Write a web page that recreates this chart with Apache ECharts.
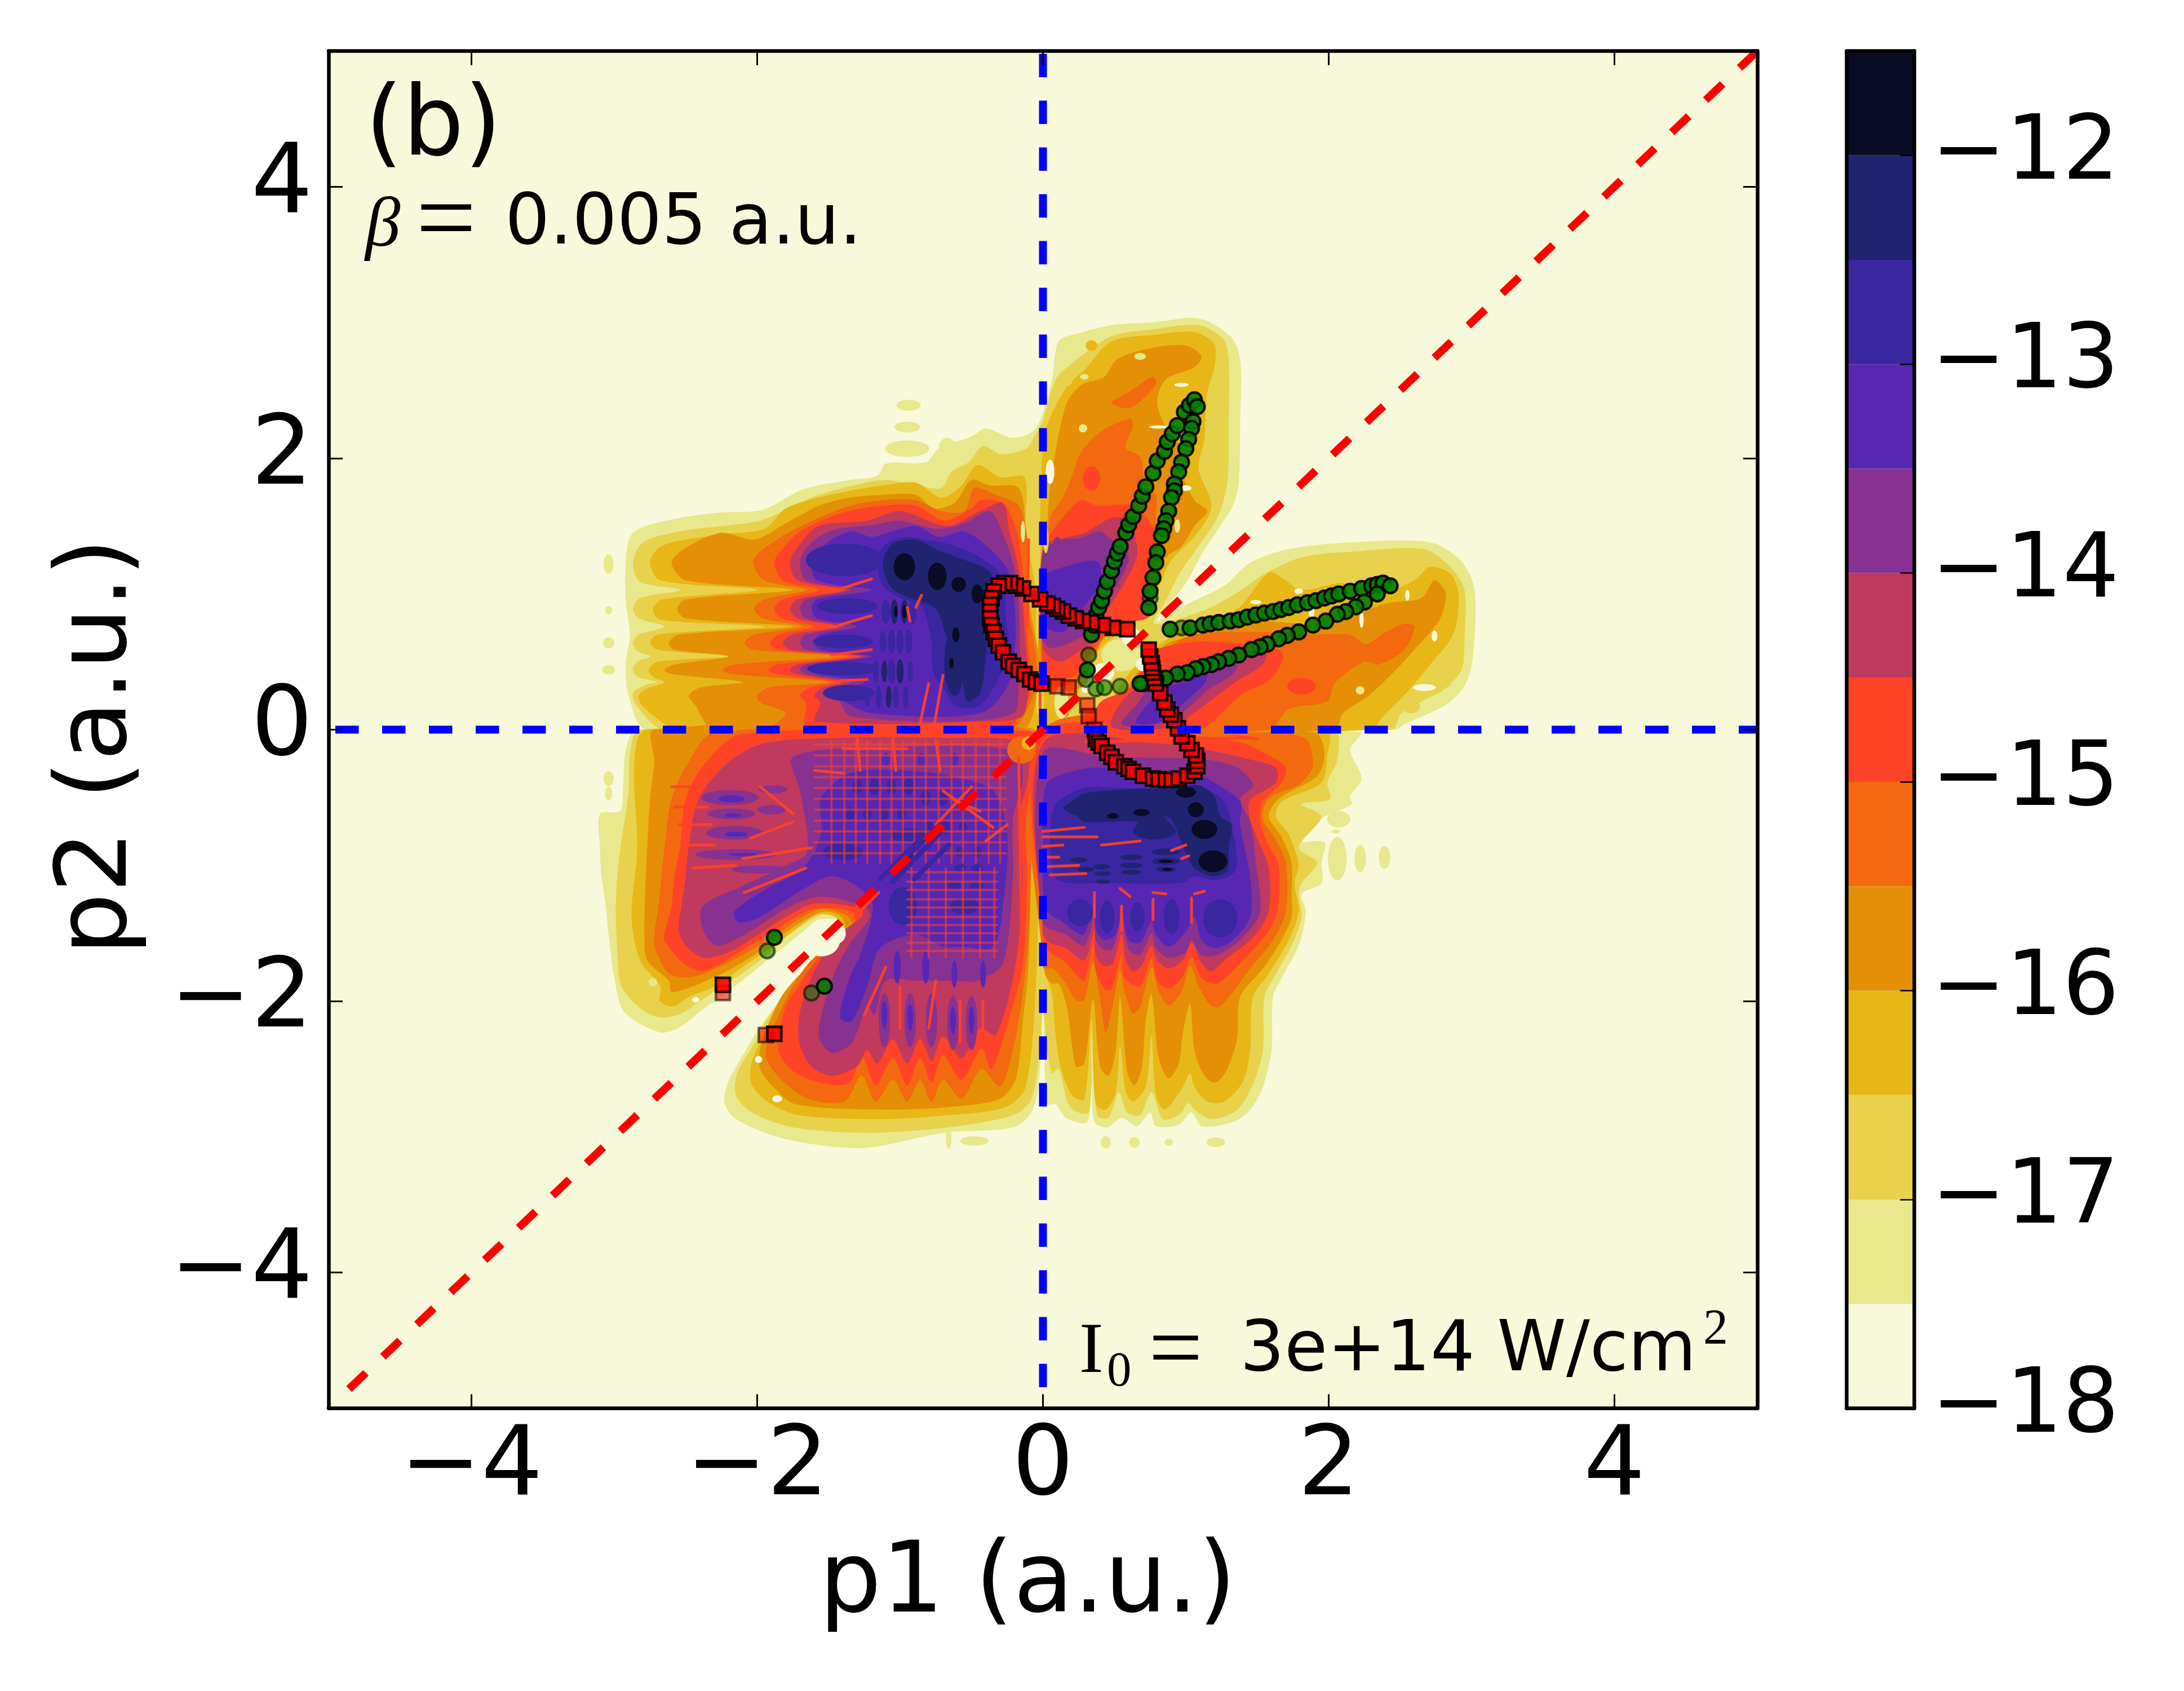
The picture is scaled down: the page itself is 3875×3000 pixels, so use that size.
<!DOCTYPE html>
<html>
<head>
<meta charset="UTF-8">
<title>p1 p2 momentum map</title>
<script src="https://cdn.jsdelivr.net/npm/echarts@6/dist/echarts.min.js"></script>
<style>
html,body{margin:0;padding:0;background:#fff}
#chart{width:3875px;height:3000px}
</style>
</head>
<body>
<div id="chart"></div>
<script type="text/javascript">
// colour levels, -18 to -11.5 in steps of 0.5
var levelEdges=[-18,-17.5,-17,-16.5,-16,-15.5,-15,-14.5,-14,-13.5,-13,-12.5,-12,-11.5];
var levelColors=['#f8f8da','#e8e88c','#e8d24c','#e7b718','#e58f07','#f2690f','#ff4327','#bf3a5e','#873290','#5727b3','#3a26a0','#20236f','#0a0b24'];
var mainTicks=[-4,-2,0,2,4];
var barTicks=[-18,-17,-16,-15,-14,-13,-12];

// contour outlines, in a.u. u = upper half, ul/ut/ur = left, top, right lobe
var u1=[[-2.77,0],[-2.9,.25],[-2.92,.48],[-2.89,.7],[-2.92,.95],[-2.92,1.23],[-2.87,1.45],[-2.59,1.55],[-2.25,1.6],[-1.96,1.62],[-1.68,1.77],[-1.35,1.84],[-1.16,1.87],[-1.1,1.96],[-.82,1.97],[-.73,2.07],[-.5,2.16],[-.4,2.22],[-.21,2.15],[-.05,2.22],[.06,2.56],[.11,2.86],[.25,2.92],[.48,2.98],[.77,3],[1.09,3.03],[1.31,2.9],[1.38,2.73],[1.38,2.24],[1.37,1.82],[1.33,1.65],[1.24,1.5],[1.11,1.29],[1,1.08],[.88,.92],[.8,.8],[1,.92],[1.27,1.06],[1.45,1.23],[1.72,1.33],[2.15,1.38],[2.71,1.38],[2.92,1.25],[3.02,1.04],[3.01,.55],[2.96,.34],[2.83,.19],[2.53,.04],[2.47,0]];
var u2=[[-2.65,0],[-2.84,.17],[-2.87,.27],[-2.78,.33],[-2.7,.35],[-2.84,.39],[-2.87,.44],[-2.84,.5],[-2.75,.54],[-2.84,.58],[-2.87,.64],[-2.83,.7],[-2.65,.76],[-2.83,.82],[-2.87,.89],[-2.82,.97],[-2.54,1.03],[-2.82,1.09],[-2.87,1.23],[-2.8,1.38],[-2.55,1.46],[-2.25,1.5],[-1.98,1.54],[-1.72,1.66],[-1.57,1.73],[-1.12,1.84],[-.89,1.8],[-.71,1.78],[-.64,1.9],[-.52,1.97],[-.42,2.09],[-.3,2.03],[-.12,2.07],[-.05,2.18],[0,2.28],[.09,2.58],[.23,2.72],[.48,2.9],[.77,2.95],[1.09,2.98],[1.26,2.88],[1.3,2.73],[1.3,2.24],[1.29,1.82],[1.22,1.56],[1.06,1.31],[.95,1.14],[.87,.97],[.78,.78],[1.13,.88],[1.36,1.01],[1.54,1.14],[1.81,1.27],[2.15,1.31],[2.67,1.33],[2.85,1.2],[2.95,1.03],[2.95,.65],[2.93,.44],[2.8,.29],[2.69,.23],[2.51,.12],[2.44,0]];
var ul3=[[-2.55,0],[-2.8,.17],[-2.83,.25],[-2.78,.3],[-2.65,.35],[-2.73,.39],[-2.76,.44],[-2.7,.5],[-2.2,.54],[-2.7,.59],[-2.75,.64],[-2.7,.7],[-1.95,.76],[-2.68,.81],[-2.73,.89],[-2.66,.96],[-2,1.03],[-2.68,1.1],[-2.75,1.23],[-2.7,1.33],[-2.6,1.38],[-2.25,1.44],[-1.95,1.48],[-1.8,1.63],[-1.57,1.71],[-1.35,1.76],[-1.12,1.8],[-.89,1.82],[-.71,1.71],[-.57,1.8],[-.46,1.95],[-.3,1.86],[-.13,1.86],[-.12,1.5],[-.05,1],[-.05,.6],[-.03,0]];
var ul4=[[-2.3,0],[-2.44,.19],[-2.48,.25],[-2.4,.31],[-2.1,.35],[-2.6,.41],[-2.65,.44],[-2.58,.48],[-2.2,.54],[-2.58,.59],[-2.62,.64],[-2.55,.7],[-1.75,.76],[-2.5,.82],[-2.56,.89],[-2.5,.96],[-1.75,1.03],[-2.5,1.1],[-2.6,1.23],[-2.5,1.34],[-2.25,1.45],[-2.02,1.4],[-1.8,1.52],[-1.57,1.65],[-1.35,1.71],[-1.12,1.73],[-.89,1.73],[-.76,1.63],[-.62,1.67],[-.5,1.84],[-.37,1.8],[-.17,1.78],[-.12,1.44],[-.1,.97],[-.03,.55],[-.03,.34],[-.15,0]];
var ul5=[[-1.9,0],[-1.8,.12],[-1.98,.2],[-2,.25],[-1.92,.31],[-1.5,.35],[-2.18,.41],[-2.24,.44],[-2.16,.48],[-1.45,.54],[-2.03,.59],[-2.09,.64],[-2.02,.7],[-1.68,.76],[-1.96,.82],[-2.02,.89],[-1.95,.96],[-1.66,1.03],[-1.95,1.1],[-2.03,1.23],[-1.98,1.31],[-1.8,1.44],[-1.57,1.56],[-1.35,1.65],[-1.12,1.69],[-.89,1.69],[-.71,1.61],[-.55,1.61],[-.48,1.78],[-.33,1.73],[-.17,1.65],[-.11,1.4],[-.11,.97],[-.05,.55],[-.05,.3],[-.24,0]];
var ul6=[[-1.65,0],[-1.66,.2],[-1.7,.25],[-1.63,.31],[-1.46,.35],[-1.87,.41],[-1.92,.44],[-1.86,.48],[-1.35,.54],[-1.86,.59],[-1.91,.64],[-1.85,.7],[-1.6,.76],[-1.83,.82],[-1.88,.89],[-1.82,.96],[-1.57,1.03],[-1.82,1.1],[-1.88,1.23],[-1.84,1.31],[-1.7,1.46],[-1.4,1.6],[-1.12,1.65],[-.89,1.65],[-.69,1.54],[-.5,1.63],[-.44,1.69],[-.28,1.67],[-.19,1.48],[-.14,1.18],[-.13,.97],[-.1,.55],[-.1,.23],[-.28,0]];
var ul7=[[-1.59,.06],[-1.56,.2],[-1.6,.25],[-1.54,.31],[-1.4,.35],[-1.73,.41],[-1.77,.44],[-1.72,.48],[-1.28,.54],[-1.77,.59],[-1.82,.64],[-1.76,.7],[-1.43,.76],[-1.72,.82],[-1.77,.89],[-1.72,.96],[-1.39,1.03],[-1.72,1.1],[-1.77,1.23],[-1.72,1.34],[-1.57,1.5],[-1.23,1.54],[-1,1.61],[-.67,1.5],[-.44,1.61],[-.28,1.67],[-.24,1.48],[-.17,1.18],[-.13,.76],[-.13,.12],[-.4,.06]];
var ul8=[[-1.35,.1],[-1.42,.2],[-1.46,.25],[-1.42,.31],[-1.35,.35],[-1.66,.41],[-1.7,.44],[-1.66,.48],[-1.25,.54],[-1.66,.59],[-1.7,.64],[-1.66,.7],[-1.39,.76],[-1.66,.82],[-1.7,.89],[-1.66,.96],[-1.35,1.03],[-1.66,1.1],[-1.7,1.23],[-1.66,1.33],[-1.57,1.42],[-1.43,1.48],[-1.18,1.51],[-1,1.54],[-.75,1.48],[-.55,1.52],[-.37,1.61],[-.28,1.44],[-.21,1.23],[-.17,.97],[-.17,.34],[-.21,.12],[-.67,.06]];
var ul9=[[-1.2,.12],[-1.38,.2],[-1.42,.25],[-1.38,.3],[-1.25,.35],[-1.58,.41],[-1.63,.44],[-1.58,.48],[-1.2,.54],[-1.56,.59],[-1.6,.64],[-1.56,.7],[-1.3,.76],[-1.58,.82],[-1.62,.89],[-1.58,.96],[-1.2,1.03],[-1.58,1.1],[-1.62,1.23],[-1.52,1.37],[-1.35,1.46],[-1.2,1.42],[-1.12,1.44],[-.89,1.5],[-.73,1.42],[-.55,1.46],[-.37,1.33],[-.24,1.16],[-.19,.76],[-.24,.34],[-.44,.12]];
var ul10=[[-1.16,1.23],[-1.12,1.35],[-.98,1.42],[-.82,1.4],[-.67,1.37],[-.44,1.27],[-.28,1.12],[-.26,.85],[-.24,.55],[-.33,.34],[-.44,.18],[-.6,.17],[-.71,.34],[-.78,.65],[-.85,.91],[-1,.97],[-1.12,1.06]];
var ul11=[[-1.12,1.23],[-1.05,1.37],[-.89,1.4],[-.75,1.33],[-.6,1.27],[-.37,1.16],[-.37,.97],[-.4,.55],[-.44,.27],[-.53,.21],[-.57,.4],[-.68,.7],[-.75,.89],[-.98,.99],[-1.07,1.06]];

var ut3=[[.01,2.16],[.16,2.52],[.29,2.65],[.48,2.86],[.79,2.91],[1.06,2.93],[1.2,2.84],[1.2,2.67],[1.15,2.48],[1.13,2.14],[1.09,1.92],[1.18,1.65],[1.09,1.46],[.9,1.25],[.84,1.12],[.77,.97],[.62,.78],[.42,.62],[.3,.42],[.22,.2],[.12,0],[-.02,0],[-.02,1.2]];
var ut4=[[.16,2.39],[.27,2.54],[.43,2.6],[.52,2.73],[.75,2.81],[1,2.83],[1.11,2.75],[1.06,2.67],[.86,2.58],[.8,2.42],[.85,2.25],[.95,2.1],[.97,1.9],[1.06,1.69],[1.15,1.61],[1.06,1.5],[.97,1.35],[.86,1.27],[.79,1.05],[.62,.85],[.45,.7],[.32,.5],[.3,.33],[.1,.28],[0,.3],[-.03,.9],[.03,1.5],[.05,1.8]];
var ut5=[[.05,1.56],[.14,1.71],[.2,1.86],[.27,2.05],[.41,2.2],[.61,2.29],[.63,2.24],[.58,2.08],[.68,2.01],[.72,1.78],[.79,1.73],[.79,1.56],[.8,1.3],[.79,1.05],[.65,.88],[.45,.72],[.35,.52],[.28,.38],[.1,.32],[0,.36],[0,1]];
var ut5b=[[.48,2.41],[.59,2.48],[.77,2.6],[.79,2.54],[.61,2.37]];
var ut6=[[0,1.35],[.05,1.44],[.16,1.59],[.27,1.69],[.38,1.65],[.63,1.65],[.77,1.48],[.78,1.18],[.75,.84],[.55,.78],[.4,.66],[.3,.5],[.22,.4],[.05,.36],[0,.4]];
var ut7=[[0,1.35],[.14,1.41],[.29,1.45],[.48,1.56],[.6,1.55],[.63,1.48],[.66,1.29],[.57,1.08],[.43,.84],[.36,.65],[.27,.59],[.12,.5],[0,.6]];
var ut8=[[0,1.31],[.14,1.4],[.25,1.41],[.4,1.46],[.48,1.4],[.56,1.38],[.6,1.25],[.5,1.03],[.4,.84],[.29,.7],[.07,.6],[0,.66]];
var ut9=[[0,1.12],[.09,1.18],[.38,1.24],[.4,1.08],[.29,.91],[.14,.72],[0,.78]];

var ur3=[[.72,.55],[1.09,.8],[1.36,.89],[1.58,1.16],[1.67,1.12],[1.81,1.03],[2.1,1.08],[2.35,1],[2.6,1.1],[2.71,1.2],[2.86,1.14],[2.91,.97],[2.87,.7],[2.71,.48],[2.56,.29],[2.4,.12],[2.28,0],[.45,0],[.48,.22]];
var ur4=[[.85,.62],[1.18,.72],[1.47,.8],[1.88,.78],[2.17,.84],[2.4,.93],[2.65,.97],[2.74,1.1],[2.82,1],[2.77,.8],[2.6,.59],[2.47,.44],[2.28,.25],[2.1,.12],[2.04,0],[.5,0],[.55,.25]];
var ur5=[[.85,.58],[1.06,.7],[1.5,.72],[1.88,.7],[2.15,.7],[2.26,.63],[2.4,.72],[2.53,.78],[2.6,.76],[2.53,.59],[2.35,.48],[2.25,.5],[2.04,.34],[1.99,.21],[1.72,.15],[1.58,0],[.55,0],[.6,.25]];
var ur6=[[.72,.5],[.79,.59],[1.13,.65],[1.65,.59],[1.68,.52],[1.58,.36],[1.4,.27],[1.36,.23],[1.09,0],[.35,0],[.4,.2],[.6,.3]];
var ur7=[[.81,.4],[1.36,.57],[1.56,.57],[1.54,.48],[1.36,.36],[1.09,.15],[.9,.02],[.48,.02],[.57,.23]];
var ur8=[[.79,.36],[1.09,.46],[1.36,.48],[1.33,.41],[1.15,.29],[1,.15],[.8,.04],[.55,.04],[.66,.19]];
var ur9=[[.72,.17],[.86,.31],[.95,.34],[1.15,.42],[1.13,.34],[1,.21],[.9,.12],[.8,.05],[.65,.05]];

// lower left
var ll1=[[-2.84,0],[-2.92,-.15],[-2.94,-.45],[-2.96,-.6],[-3.1,-.62],[-3.1,-.87],[-3.09,-1.08],[-3.06,-1.3],[-3.04,-1.51],[-3,-1.83],[-2.93,-2.08],[-2.68,-2.23],[-2.54,-2.19],[-2.38,-2.06],[-2.18,-1.91],[-2,-1.76],[-1.8,-1.59],[-1.68,-1.49],[-1.57,-1.4],[-1.39,-1.42],[-1.37,-1.55],[-1.53,-1.72],[-1.68,-1.85],[-1.82,-1.97],[-1.98,-2.19],[-2.09,-2.38],[-2.2,-2.59],[-2.23,-2.74],[-2.16,-2.86],[-1.89,-2.99],[-1.57,-3.06],[-1.23,-3.08],[-.69,-2.97],[-.21,-2.93],[-.08,-2.82],[-.03,-2.6],[0,-2],[0,0]];
var ll2=[[-2.82,0],[-2.89,-.17],[-2.9,-.45],[-2.97,-.98],[-2.99,-1.3],[-2.98,-1.61],[-2.95,-1.89],[-2.81,-2.06],[-2.68,-2.12],[-2.53,-2.09],[-2.36,-1.97],[-2.18,-1.85],[-1.98,-1.7],[-1.8,-1.53],[-1.62,-1.4],[-1.5,-1.35],[-1.38,-1.42],[-1.48,-1.66],[-1.62,-1.76],[-1.77,-1.93],[-1.91,-2.1],[-2.02,-2.31],[-2.14,-2.53],[-2.15,-2.69],[-2.04,-2.82],[-1.75,-2.93],[-1.23,-2.97],[-.66,-2.93],[-.21,-2.84],[-.08,-2.72],[-.02,-2.3],[0,-1.8],[0,0]];
var ll3=[[-2.78,0],[-2.86,-.24],[-2.84,-.87],[-2.88,-1.34],[-2.86,-1.55],[-2.81,-1.72],[-2.68,-1.89],[-2.68,-2],[-2.59,-2.04],[-2.48,-1.97],[-2.29,-1.89],[-2.09,-1.74],[-1.88,-1.59],[-1.73,-1.47],[-1.57,-1.36],[-1.43,-1.4],[-1.43,-1.57],[-1.59,-1.7],[-1.75,-1.87],[-1.86,-2.04],[-1.95,-2.23],[-2.04,-2.46],[-2.04,-2.61],[-1.93,-2.74],[-1.71,-2.84],[-1.12,-2.87],[-.66,-2.84],[-.26,-2.78],[-.12,-2.63],[-.05,-1.9],[-.03,-1],[-.03,0]];
var ll4=[[-2.72,0],[-2.72,-.24],[-2.75,-.51],[-2.77,-.87],[-2.78,-1.08],[-2.79,-1.51],[-2.77,-1.7],[-2.62,-1.85],[-2.6,-1.93],[-2.5,-1.91],[-2.25,-1.8],[-2.02,-1.66],[-1.82,-1.51],[-1.66,-1.4],[-1.53,-1.34],[-1.41,-1.38],[-1.39,-1.51],[-1.52,-1.63],[-1.68,-1.78],[-1.82,-1.95],[-1.91,-2.14],[-1.98,-2.36],[-1.98,-2.5],[-1.89,-2.63],[-1.73,-2.76],[-1.12,-2.8],[-.66,-2.78],[-.3,-2.72],[-.19,-2.57],[-.14,-2.14],[-.1,-1.72],[-.08,-.9],[-.05,0]];
var ll5=[[-2.3,-.02],[-2.48,-.24],[-2.6,-.51],[-2.65,-.87],[-2.67,-1.08],[-2.69,-1.3],[-2.72,-1.51],[-2.71,-1.63],[-2.61,-1.8],[-2.45,-1.82],[-2.25,-1.74],[-2.02,-1.61],[-1.86,-1.51],[-1.68,-1.38],[-1.53,-1.32],[-1.36,-1.38],[-1.34,-1.47],[-1.5,-1.59],[-1.64,-1.72],[-1.75,-1.89],[-1.84,-2.08],[-1.93,-2.31],[-1.93,-2.44],[-1.82,-2.59],[-1.64,-2.72],[-1.39,-2.74],[-1.27,-2.55],[-1.17,-2.74],[-1.05,-2.58],[-.95,-2.74],[-.86,-2.58],[-.78,-2.74],[-.7,-2.58],[-.57,-2.72],[-.43,-2.5],[-.3,-2.63],[-.21,-2.36],[-.14,-1.93],[-.1,-1.51],[-.08,-.87],[-.05,-.02]];
var ll6=[[-2.1,-.03],[-2.36,-.24],[-2.5,-.51],[-2.54,-.87],[-2.58,-1.08],[-2.6,-1.3],[-2.65,-1.51],[-2.65,-1.55],[-2.54,-1.7],[-2.4,-1.78],[-2.25,-1.72],[-2.02,-1.57],[-1.82,-1.44],[-1.6,-1.32],[-1.34,-1.34],[-1.32,-1.42],[-1.48,-1.55],[-1.59,-1.7],[-1.7,-1.87],[-1.8,-2.04],[-1.85,-2.27],[-1.84,-2.4],[-1.73,-2.53],[-1.52,-2.61],[-1.35,-2.6],[-1.27,-2.4],[-1.17,-2.62],[-1.05,-2.42],[-.95,-2.62],[-.86,-2.42],[-.78,-2.6],[-.7,-2.4],[-.57,-2.58],[-.43,-2.35],[-.36,-2.5],[-.24,-2.14],[-.14,-1.72],[-.11,-1.08],[-.12,-.66],[-.05,-.24],[-.03,-.02]];
var ll7=[[-1.95,-.1],[-2.2,-.24],[-2.41,-.51],[-2.48,-.87],[-2.5,-1.08],[-2.53,-1.3],[-2.55,-1.47],[-2.5,-1.59],[-2.38,-1.68],[-2.2,-1.64],[-1.99,-1.51],[-1.8,-1.38],[-1.59,-1.28],[-1.27,-1.32],[-1.27,-1.38],[-1.43,-1.51],[-1.57,-1.72],[-1.66,-1.93],[-1.71,-2.14],[-1.7,-2.33],[-1.62,-2.48],[-1.48,-2.55],[-1.3,-2.48],[-1.23,-2.36],[-1.16,-2.46],[-1.05,-2.28],[-.95,-2.46],[-.86,-2.28],[-.78,-2.44],[-.7,-2.26],[-.57,-2.42],[-.44,-2.2],[-.33,-2.25],[-.19,-1.72],[-.14,-1.08],[-.17,-.66],[-.1,-.34],[-.13,-.1],[-.7,-.06],[-1.4,-.06]];
var ll8=[[-1.75,-.2],[-1.7,-.45],[-1.65,-.9],[-1.8,-1],[-2.1,-1.15],[-2.38,-1.3],[-2.38,-1.47],[-2.29,-1.59],[-2.16,-1.55],[-1.98,-1.44],[-1.8,-1.32],[-1.57,-1.23],[-1.25,-1.3],[-1.21,-1.38],[-1.36,-1.59],[-1.48,-1.85],[-1.57,-2.25],[-1.48,-2.38],[-1.34,-2.31],[-1.23,-2.04],[-1.18,-2.1],[-1.1,-1.85],[-.89,-1.85],[-.62,-1.85],[-.46,-1.85],[-.28,-1.72],[-.21,-1.08],[-.21,-.66],[-.14,-.34],[-.21,-.15],[-1.12,-.13]];
var ll9=[[-2.16,-1.34],[-2.13,-1.42],[-1.98,-1.38],[-1.7,-1.19],[-1.48,-1.08],[-1.28,-1.17],[-1.19,-1.3],[-1.27,-1.63],[-1.36,-1.85],[-1.42,-2.12],[-1.34,-2.15],[-1.23,-1.89],[-1.14,-1.61],[-.89,-1.51],[-.7,-1.6],[-.55,-1.6],[-.35,-1.6],[-.28,-1.3],[-.25,-.77],[-.35,-.45],[-.66,-.34],[-1,-.3],[-1.35,-.32],[-1.55,-.5],[-1.55,-.75],[-1.6,-.9],[-1.7,-1.04],[-1.93,-1.17]];

// lower right
var lr1=[[2.22,-.02],[2.15,-.15],[2.23,-.36],[2.15,-.49],[2.16,-.55],[1.97,-.64],[1.81,-.77],[1.76,-.83],[1.97,-.83],[1.95,-.98],[1.95,-1.13],[1.81,-1.21],[1.84,-1.34],[1.79,-1.59],[1.67,-1.83],[1.61,-1.97],[1.6,-2.36],[1.54,-2.63],[1.45,-2.8],[1.33,-2.89],[1.11,-2.92],[1.04,-2.82],[.95,-2.91],[.79,-2.92],[.75,-2.82],[.66,-2.92],[.55,-2.86],[.45,-2.93],[.36,-2.89],[.34,-2.61],[.31,-2.89],[.16,-2.86],[.09,-2.76],[.03,-2.76],[.01,-2.36],[0,-1.7],[0,0]];
var lr2=[[2.04,-.02],[2.06,-.22],[1.99,-.39],[2.01,-.51],[1.81,-.55],[1.95,-.64],[1.79,-.87],[1.92,-.98],[1.81,-1.13],[1.79,-1.21],[1.81,-1.38],[1.74,-1.59],[1.63,-1.8],[1.55,-1.97],[1.54,-2.36],[1.47,-2.61],[1.36,-2.8],[1.18,-2.87],[1.06,-2.8],[1.02,-2.75],[.95,-2.84],[.84,-2.87],[.76,-2.67],[.68,-2.84],[.59,-2.82],[.53,-2.67],[.46,-2.86],[.38,-2.84],[.34,-2.25],[.32,-2.82],[.19,-2.78],[.11,-2.5],[.06,-2.53],[.01,-2.14],[0,-1.5],[0,0]];
var lr3=[[1.99,-.02],[1.99,-.19],[1.95,-.39],[1.67,-.53],[1.63,-.64],[1.72,-.77],[1.79,-1],[1.76,-1.13],[1.79,-1.34],[1.72,-1.55],[1.58,-1.8],[1.47,-1.97],[1.45,-2.36],[1.4,-2.59],[1.27,-2.74],[1.15,-2.74],[1.06,-2.63],[1.03,-2.53],[.97,-2.65],[.85,-2.8],[.79,-2.69],[.76,-2.25],[.72,-2.63],[.63,-2.74],[.58,-2.67],[.54,-2.33],[.51,-2.67],[.44,-2.8],[.37,-2.76],[.34,-2.14],[.29,-2.72],[.2,-2.69],[.11,-2.42],[.06,-1.93],[.02,-1.8],[0,-1.2],[0,0]];
var lr4=[[1.9,-.02],[1.97,-.17],[1.92,-.34],[1.65,-.51],[1.58,-.64],[1.67,-.79],[1.74,-.98],[1.74,-1.21],[1.74,-1.38],[1.67,-1.55],[1.54,-1.76],[1.38,-1.97],[1.36,-2.27],[1.29,-2.5],[1.21,-2.6],[1.13,-2.55],[1.06,-2.36],[1.03,-2.02],[.98,-2.23],[.95,-2.46],[.88,-2.57],[.81,-2.42],[.76,-1.95],[.72,-2.14],[.69,-2.5],[.64,-2.62],[.59,-2.52],[.54,-1.97],[.51,-2.36],[.46,-2.55],[.4,-2.48],[.35,-1.99],[.29,-2.46],[.23,-2.48],[.17,-2.06],[.11,-1.87],[.06,-1.87],[.01,-1.78],[0,0]];
var lr5=[[1.83,-.06],[1.89,-.26],[1.81,-.39],[1.58,-.51],[1.54,-.66],[1.63,-.81],[1.7,-.98],[1.7,-1.34],[1.61,-1.55],[1.45,-1.76],[1.24,-2.04],[1.17,-2.03],[1.09,-1.89],[1.03,-1.74],[.97,-1.93],[.88,-2.03],[.81,-1.93],[.76,-1.75],[.68,-2.04],[.63,-2.09],[.57,-1.93],[.54,-1.78],[.49,-2.02],[.44,-2.23],[.4,-1.99],[.35,-1.72],[.29,-1.99],[.23,-1.99],[.16,-1.87],[.07,-1.76],[0,-1.75],[0,0],[1.4,-.02]];
var lr6=[[1.4,-.1],[1.58,-.19],[1.7,-.28],[1.67,-.39],[1.54,-.53],[1.52,-.68],[1.58,-.85],[1.65,-1],[1.64,-1.34],[1.56,-1.51],[1.4,-1.7],[1.22,-1.87],[1.11,-1.83],[1.04,-1.68],[.97,-1.83],[.88,-1.91],[.8,-1.85],[.76,-1.68],[.68,-1.89],[.57,-1.83],[.55,-1.66],[.48,-1.91],[.43,-1.91],[.37,-1.78],[.35,-1.59],[.29,-1.85],[.23,-1.8],[.14,-1.7],[.05,-1.64],[0,-1.55],[0,-.03],[1.09,-.05]];
var lr7=[[1.45,-.22],[1.63,-.28],[1.63,-.39],[1.45,-.52],[1.45,-.66],[1.52,-.85],[1.58,-1.02],[1.58,-1.34],[1.47,-1.53],[1.27,-1.7],[1.18,-1.78],[1.11,-1.72],[1.04,-1.57],[.98,-1.7],[.88,-1.76],[.8,-1.7],[.76,-1.59],[.69,-1.74],[.63,-1.78],[.58,-1.7],[.55,-1.51],[.49,-1.72],[.43,-1.74],[.37,-1.66],[.36,-1.47],[.29,-1.7],[.16,-1.61],[.05,-1.57],[0,-1.5],[0,-.1],[.8,-.1],[1.2,-.16]];
var lr8=[[1.36,-.28],[1.47,-.41],[1.38,-.51],[1.45,-.68],[1.49,-.98],[1.52,-1.34],[1.4,-1.53],[1.22,-1.66],[1.11,-1.66],[1.04,-1.55],[1,-1.64],[.88,-1.68],[.79,-1.61],[.76,-1.5],[.68,-1.66],[.6,-1.62],[.55,-1.4],[.49,-1.61],[.43,-1.62],[.37,-1.55],[.36,-1.38],[.29,-1.59],[.16,-1.51],[0,-1.42],[0,-.17],[.45,-.2],[1.13,-.22]];
var lr9=[[1.2,-.39],[1.38,-.53],[1.38,-.7],[1.45,-1.08],[1.45,-1.38],[1.33,-1.55],[1.2,-1.61],[1.11,-1.55],[1.06,-1.38],[1,-1.49],[.88,-1.6],[.79,-1.51],[.76,-1.41],[.68,-1.57],[.6,-1.55],[.55,-1.34],[.51,-1.51],[.43,-1.55],[.37,-1.47],[.36,-1.3],[.28,-1.51],[.14,-1.42],[.02,-1.32],[0,-.82],[.02,-.41],[.16,-.32],[.43,-.28],[.75,-.41],[.97,-.43],[1.09,-.34]];
var lr10=[[.09,-.55],[.29,-.43],[.59,-.43],[.77,-.43],[1.09,-.42],[1.27,-.53],[1.33,-.75],[1.36,-.96],[1.33,-1.06],[1.2,-1.11],[1.06,-1.08],[.97,-1.13],[.45,-1.13],[.1,-1.1],[.05,-.8]];
var lr11=[[.2,-.53],[.29,-.47],[.59,-.44],[.93,-.43],[1.09,-.41],[1.2,-.49],[1.24,-.64],[1.32,-.7],[1.3,-.87],[1.29,-1.04],[1.18,-1.08],[1.06,-1.02],[1,-.91],[.9,-.66],[.85,-.64],[.93,-.76],[.77,-.81],[.63,-.76],[.66,-.68],[.29,-.68],[.24,-.64],[.14,-.58]];

var contourList=[
  [1,u1],[1,ll1],[1,lr1],[2,u2],[2,ll2],[2,lr2],
  [3,ul3],[3,ut3],[3,ur3],[3,ll3],[3,lr3],
  [4,ul4],[4,ut4],[4,ur4],[4,ll4],[4,lr4],
  [5,ul5],[5,ut5],[5,ut5b],[5,ur5],[5,ll5],[5,lr5],
  [6,ul6],[6,ut6],[6,ur6],[6,ll6],[6,lr6],
  [7,ul7],[7,ut7],[7,ur7],[7,ll7],[7,lr7],
  [8,ul8],[8,ut8],[8,ur8],[8,ll8],[8,lr8],
  [9,ul9],[9,ut9],[9,ur9],[9,ll9],[9,lr9],
  [10,ul10],[10,lr10],[11,ul11],[11,lr11]
];

// x, y, half width, half height, level
var spots=[
  // faint outer islands
  [-.94,2.39,.085,.04,1],[-.95,2.23,.09,.04,1],[-.95,2.07,.155,.06,1],[-.67,2.08,.06,.07,1],
  [-3.04,1.22,.035,.07,1],[-3.04,.88,.025,.03,1],[-3.04,.64,.04,.04,1],[-3.04,.44,.045,.035,1],
  [-3.04,-.36,.035,.055,1],[-3.04,-.47,.025,.05,1],[-.48,-3.03,.1,.035,1],[-.66,-3.01,.02,.08,1],
  [.44,-3.04,.035,.045,1],[.64,-3.04,.037,.04,1],[.88,-3.04,.03,.025,1],[1.21,-3.04,.065,.035,1],
  [2.06,-.95,.065,.16,1],[2.22,-.95,.04,.1,1],[2.39,-.94,.04,.085,1],[2.07,-.66,.08,.06,1],[2.05,-.75,.03,.015,1],
  // pale holes
  [.05,1.9,.03,.09,0],[.97,2.54,.05,.015,0],[.81,2.23,.07,.012,0],[1,1.78,.04,.02,0],[.94,1.5,.02,.05,1],
  [.68,2.75,.04,.025,1],[.28,2.22,.03,.03,1],[.29,2.6,.03,.02,1],[.16,2.59,.05,.06,2],[.34,2.83,.04,.04,3],
  [2.74,.69,.02,.04,0],[2.55,.99,.015,.04,0],[2.23,.81,.015,.06,0],[1.88,.87,.02,.05,0],[1.79,1.02,.03,.02,0],[1.49,.94,.04,.015,0],
  [2.22,.29,.03,.03,1],[2.67,.31,.08,.025,0],[2.82,.36,.04,.05,2],[2.58,.17,.06,.05,2],
  [-2.73,-1.86,.03,.03,1],[-2.43,-1.99,.025,.02,0],[-1.99,-2.43,.025,.025,0],[-1.86,-2.72,.035,.025,0],
  [-1.55,-1.55,.13,.12,0],[-1.45,-1.5,.07,.08,0],
  [-.14,1.46,.015,.08,1],[.02,1.4,.02,.1,2],
  // light patch round the origin
  [.55,.55,.14,.12,1],[.62,.68,.07,.07,0],[.42,.42,.08,.07,0],[.7,.48,.05,.05,0],[.13,.2,.05,.12,1],[-.02,.2,.03,.1,2],[.3,.3,.03,.03,0],
  [-.15,-.15,.1,.1,5],[-.1,-.1,.05,.05,3],
  // small red patches in the lobes
  [.34,1.85,.06,.09,6],[1.81,.32,.1,.06,6],[.1,1.36,.03,.06,8],
  // upper left, level 10 lobes
  [-1.39,1.25,.27,.12,10],[-1.37,.91,.21,.06,10],[-1.4,.65,.21,.05,10],[-1.4,.45,.25,.05,10],[-1.36,.27,.18,.06,10],
  [-1.1,.87,.03,.09,10],[-1.04,.87,.025,.09,11],[-.97,.87,.025,.09,11],[-.91,.87,.025,.09,10],
  [-1.12,.65,.025,.08,10],[-1.06,.65,.025,.09,10],[-1,.65,.025,.09,10],[-.94,.65,.025,.09,10],
  [-1.17,.43,.02,.08,10],[-1.11,.43,.02,.08,11],[-1.06,.43,.025,.09,10],[-1,.43,.025,.09,11],[-.93,.43,.02,.08,10],
  [-1.23,.24,.02,.07,10],[-1.15,.24,.02,.08,10],[-1.08,.24,.02,.08,11],[-1.03,.24,.02,.08,10],[-.96,.24,.02,.08,10],
  [-.72,.55,.06,.2,10],[-.62,.5,.07,.25,11],
  // upper left, darkest
  [-.97,1.2,.075,.1,12],[-.74,1.13,.065,.1,12],[-.59,1.07,.05,.055,12],[-.46,1,.04,.07,12],[-.61,.7,.025,.055,12],[-.64,.49,.015,.04,12],[-.97,.87,.015,.05,12],[-1.03,.87,.012,.04,12],
  // lower right, level 10 lobes and stripes
  [1.24,-1.39,.12,.14,10],[.9,-1.38,.055,.13,10],[.66,-1.38,.05,.11,10],[.45,-1.38,.05,.12,10],[.26,-1.35,.09,.1,10],
  [.86,-.9,.1,.025,11],[.86,-.97,.1,.025,11],[.86,-1.03,.07,.02,11],[.62,-.94,.08,.02,11],[.62,-1,.08,.02,11],[.62,-1.05,.07,.02,11],
  [.41,-1.01,.06,.018,11],[.42,-1.06,.06,.016,11],[.25,-.96,.06,.018,11],[.3,-1.03,.06,.018,11],[.42,-1.12,.05,.016,11],
  [1,-.46,.07,.04,12],[1.07,-.59,.055,.055,12],[1.13,-.735,.09,.07,12],[1.19,-.97,.1,.08,12],[.69,-.61,.055,.025,12],[.49,-.635,.04,.02,12],[.86,-.97,.05,.012,12],[.87,-1.03,.035,.01,12],
  // lower left fingers
  [-2.19,-.5,.2,.055,8],[-2.18,-.62,.17,.04,8],[-2.16,-.76,.2,.05,8],[-2.15,-.92,.28,.04,8],[-1.89,-.44,.1,.03,8],[-1.9,-.59,.1,.035,8],[-1.98,-1.03,.2,.03,8],
  [-2.18,-.51,.09,.025,9],[-2.17,-.63,.06,.014,9],[-2.15,-.77,.08,.018,9],[-2.1,-.92,.1,.012,9],
  // lower left, interference spots
  [-1.4,-.9,.14,.06,10],[-.98,-1.3,.1,.14,10],[-.93,-.78,.14,.05,10],[-.95,-.92,.05,.03,11],[-.55,-1.3,.1,.06,10],
  [-1.3,-.42,.035,.05,10],[-1.18,-.42,.035,.06,10],[-1.06,-.42,.035,.06,10],[-.94,-.42,.035,.06,10],[-.82,-.5,.035,.06,10],[-.7,-.5,.035,.06,10],
  [-1.35,-.62,.03,.05,10],[-1.23,-.62,.03,.05,10],[-1.11,-.62,.03,.05,10],[-.99,-.62,.03,.05,10],[-.8,-.72,.03,.05,10],[-.68,-.72,.03,.05,10],[-.56,-.72,.03,.04,10],
  [-.58,-.9,.03,.04,10],[-.46,-.9,.03,.04,10],[-.58,-1.02,.04,.03,10],[-.46,-1.02,.04,.03,10],[-.34,-1,.03,.03,9],[-.62,-1.15,.05,.025,10],[-.46,-1.15,.05,.025,10],
  [-.5,-.5,.03,.05,9],[-.42,-.62,.03,.05,9],[-.62,-.22,.03,.05,9],[-.85,-.22,.03,.05,9],[-1.1,-.22,.03,.05,9],
  [-1.11,-2.14,.04,.2,8],[-.93,-2.14,.04,.2,8],[-.78,-2.14,.04,.2,8],[-.63,-2.16,.04,.2,8],[-.5,-2.16,.04,.2,8],
  [-1.11,-2.1,.02,.1,9],[-.93,-2.12,.02,.1,9],[-.63,-2.14,.02,.1,9],[-.5,-2.14,.02,.1,9],
  [-1.02,-1.75,.025,.12,9],[-.82,-1.75,.025,.12,9],[-.62,-1.8,.02,.1,9],[-.42,-1.8,.02,.1,9]
];

// x1, y1, x2, y2, thin bright fringes
var fringesBright=[
  [-1.41,1.04,-1.2,1.11],[-1.43,.77,-1.2,.84],[-1.48,.55,-1.2,.59],[-1.43,.36,-1.23,.37],[-.87,0,-.8,.34],[-.76,.04,-.7,.4],[-.85,.99,-.89,.9],[-.1,1.4,-.11,.76],[-.95,.9,-.93,.8],
  [-2.6,-.42,-2.38,-.42],[-2.58,-.57,-2.35,-.57],[-2.55,-.7,-2.32,-.7],[-2.5,-.85,-2.3,-.85],[-2.45,-1.02,-2.15,-1],[-2.05,-.8,-1.75,-.68],[-2.1,-.95,-1.62,-.87],[-2.09,-1.2,-1.66,-1.02],[-1.98,-.42,-1.75,-.62],
  [-1.4,-.14,-.95,-.14],[-1.6,-.3,-1.4,-.32],[-1.3,-.05,-1.28,-.3],[-1.05,-.05,-1.03,-.3],[-.75,-.08,-.72,-.3],[-.17,-.2,-.15,-1.5],
  [-.7,-.45,-.35,-.72],[-.75,-.7,-.5,-.42],[-.4,-.82,-.25,-.7],[-.62,-.52,-.44,-.6],[-1.35,-1.35,-1.2,-1.2],[-1.32,-1.38,-1.15,-1.2],
  [-1.25,-2.1,-1.1,-1.75],[-1,-2.2,-1,-1.9],[-.8,-2.2,-.75,-1.85],[-.58,-2.3,-.58,-2],[-.42,-2.2,-.42,-2],
  [0,-.75,.29,-.72],[0,-.79,.38,-.79],[.41,-.85,.68,-.82],[0,-.86,.14,-.85],[0,-.94,.11,-.94],[0,-1.01,.25,-1],[.05,-1.07,.3,-1.06],
  [.9,-.89,1,-.85],[.97,-.95,1.02,-.93],[.54,-1.17,.61,-1.23],[.77,-1.2,.86,-1.21],[1.06,-1.21,1.13,-1.19],
  [.55,-1.3,.55,-1.48],[.77,-1.25,.77,-1.4],[1.04,-1.24,1.04,-1.42],[.36,-1.2,.36,-1.38],
  [.3,-.09,.8,-.08],[1.1,-.07,1.45,-.06],[-.02,.35,-.02,.1],[1.35,-.05,1.5,-.07]
];
var fringesDark=[[-1.05,-1.12,-.72,-.76],[-.98,-.96,-.72,-.7],[-1.14,-1.1,-.85,-.8],[-.9,-1.1,-.66,-.85]];

// interference mesh in the lower left quadrant
var meshAX=[-1.48,-1.39,-1.31,-1.23,-1.14,-1.06,-.98,-.9,-.82,-.73,-.64,-.56,-.47,-.38,-.3];
var meshAY=[-.11,-.19,-.27,-.35,-.43,-.51,-.59,-.67,-.75,-.83,-.91];
var meshBX=[-.92,-.8,-.68,-.56,-.44,-.34];
var meshBY=[-1.05,-1.12,-1.18,-1.25,-1.31,-1.38,-1.44,-1.5,-1.57,-1.63];
var meshLines=[];
meshAX.forEach(function(x){meshLines.push([x,-.08,x,-.98]);});
meshAY.forEach(function(y){meshLines.push([-1.6,y,-.26,y]);});
meshBX.forEach(function(x){meshLines.push([x,-1.02,x,-1.68]);});
meshBY.forEach(function(y){meshLines.push([-.95,y,-.32,y]);});

// trajectory points, a.u.
var greenPts=[[.34,.7],[.355,.77],[.37,.84],[.39,.9],[.41,.95],[.43,1.02],[.45,1.09],[.48,1.17],[.5,1.24],[.52,1.3],[.54,1.35],[.58,1.45],[.6,1.51],[.63,1.57],[.67,1.65],[.695,1.72],[.72,1.79],[.77,1.89],[.8,1.98],[.85,2.05],[.87,2.12],[.905,2.18],[.94,2.24],[.99,2.34],[1.025,2.39],[1.06,2.43],[1.08,2.38],[1.05,2.27],[1.04,2.22],[1.02,2.14],[1,2.07],[.97,1.97],[.95,1.9],[.92,1.81],[.92,1.76],[.9,1.71],[.88,1.61],[.86,1.54],[.845,1.48],[.83,1.43],[.8,1.31],[.79,1.23],[.77,1.12],[.75,1.02],[.74,.9],
  [.89,.74],[1.03,.75],[1.12,.77],[1.17,.78],[1.23,.79],[1.31,.8],[1.37,.81],[1.43,.83],[1.49,.845],[1.55,.86],[1.61,.87],[1.665,.885],[1.72,.9],[1.78,.92],[1.85,.935],[1.91,.95],[1.97,.97],[2.02,.985],[2.07,1],[2.15,1.02],[2.23,1.04],[2.3,1.06],[2.34,1.07],[2.38,1.08],[2.43,1.06],[2.34,1],[2.25,.94],[2.19,.905],[2.12,.87],[2.06,.85],[1.98,.8],[1.89,.77],[1.79,.72],[1.71,.695],[1.65,.67],[1.57,.63],[1.52,.61],[1.46,.59],[1.37,.55],[1.3,.525],[1.23,.5],[1.18,.48],[1.12,.465],[1.07,.45],[1.01,.42],[.94,.41],[.86,.38],[.79,.37],[.7,.34],[.68,.34],[.31,.44],[-1.88,-1.53],[-1.53,-1.89]];
var greenFaintPts=[[.75,.97],[.97,.75],[.32,.55],[.3,.37],[.37,.3],[.43,.31],[.54,.32],[-1.93,-1.63],[-1.62,-1.94]];
var redPts=[[.59,.74],[.49,.75],[.42,.77],[.34,.79],[.28,.8],[.23,.82],[.18,.84],[.14,.87],[.1,.89],[.07,.91],[.03,.93],[-.02,.96],[-.08,1],[-.14,1.04],[-.19,1.06],[-.23,1.08],[-.27,1.08],[-.31,1.06],[-.345,1.02],[-.36,.97],[-.37,.92],[-.37,.87],[-.37,.82],[-.36,.77],[-.345,.72],[-.33,.67],[-.31,.62],[-.28,.57],[-.24,.5],[-.21,.47],[-.17,.44],[-.13,.41],[-.09,.37],[-.05,.35],[-.01,.34],
  [.37,-.07],[.39,-.095],[.41,-.12],[.45,-.17],[.48,-.2],[.51,-.24],[.57,-.27],[.6,-.29],[.63,-.31],[.7,-.34],[.77,-.36],[.81,-.365],[.86,-.37],[.9,-.37],[.95,-.36],[1.01,-.34],[1.06,-.31],[1.08,-.27],[1.08,-.23],[1.07,-.19],[1.04,-.15],[1.01,-.1],[.97,-.05],[.945,.01],[.92,.07],[.895,.11],[.87,.15],[.85,.2],[.82,.27],[.79,.34],[.78,.38],[.77,.42],[.765,.455],[.76,.49],[.75,.54],[.74,.59],[-2.24,-1.88],[-1.88,-2.24]];
var redFaintPts=[[.1,.32],[.18,.31],[.31,.18],[.32,.1],[.36,0],[-2.24,-1.94],[-1.94,-2.25]];

function minusLabel(v){
  return String(v).replace('-','\u2212');
}

var chart=echarts.init(document.getElementById('chart'));
var black='#000';
var fontMain='DejaVu Sans';
var frameLine={show:true,onZero:false,lineStyle:{color:black,width:6.5}};
var mainTick={show:true,inside:true,length:25,customValues:mainTicks,lineStyle:{color:black,width:3}};
var noTick={show:false};
var noLabel={show:false};

function valueAxis(extra,lo,hi){
  var a={type:'value',min:lo,max:hi,z:10,splitLine:{show:false},axisLine:frameLine,axisTick:noTick,axisLabel:noLabel};
  for(var k in extra){a[k]=extra[k];}
  return a;
}

var labelMain={show:true,fontFamily:fontMain,fontSize:172,color:black,formatter:minusLabel,hideOverlap:false,customValues:mainTicks};
var labelBar={show:true,fontFamily:fontMain,fontSize:158,color:black,formatter:minusLabel,hideOverlap:false,customValues:barTicks,margin:30,padding:[15,0,0,0]};

function segmentSeries(name,list,stroke,width,opacity,z){
  return {
    type:'custom',name:name,xAxisIndex:0,yAxisIndex:0,z:z,silent:true,clip:true,
    data:list.map(function(s,i){return [i];}),
    renderItem:function(params,api){
      var s=list[params.dataIndex];
      var a=api.coord([s[0],s[1]]),b=api.coord([s[2],s[3]]);
      return {type:'line',shape:{x1:a[0],y1:a[1],x2:b[0],y2:b[1]},style:{stroke:stroke,lineWidth:width,lineCap:'round',opacity:opacity}};
    }
  };
}

var option={
  animation:false,
  backgroundColor:'#fff',
  grid:[
    {left:583,top:90.5,width:2535,height:2408,show:true,backgroundColor:levelColors[0],borderWidth:0},
    {left:3276.5,top:90.5,width:120,height:2408,show:false}
  ],
  xAxis:[
    valueAxis({gridIndex:0,position:'bottom',axisTick:mainTick,
      axisLabel:Object.assign({},labelMain,{margin:22}),
      name:'p1 (a.u.)',nameLocation:'middle',nameGap:228,
      nameTextStyle:{fontFamily:fontMain,fontSize:174,color:black,padding:[0,54,0,0]}},-5,5),
    valueAxis({gridIndex:0,position:'top',axisTick:mainTick},-5,5),
    valueAxis({gridIndex:1,position:'bottom'},0,1),
    valueAxis({gridIndex:1,position:'top'},0,1)
  ],
  yAxis:[
    valueAxis({gridIndex:0,position:'left',axisTick:mainTick,
      axisLabel:Object.assign({},labelMain,{margin:28,padding:[15,0,0,0]}),
      name:'p2 (a.u.)',nameLocation:'middle',nameGap:318,nameRotate:90,
      nameTextStyle:{fontFamily:fontMain,fontSize:174,color:black,padding:[0,60,0,0]}},-5,5),
    valueAxis({gridIndex:0,position:'right',axisTick:mainTick},-5,5),
    valueAxis({gridIndex:1,position:'left'},-18,-11.5),
    valueAxis({gridIndex:1,position:'right',
      axisTick:{show:true,inside:true,length:25,customValues:barTicks,lineStyle:{color:black,width:2.5}},
      axisLabel:labelBar},-18,-11.5)
  ],
  series:[
    {
      type:'custom',name:'contours',xAxisIndex:0,yAxisIndex:0,z:1,silent:true,clip:true,
      data:contourList.map(function(c,i){return [i];}),
      renderItem:function(params,api){
        var c=contourList[params.dataIndex];
        return {type:'polygon',
          shape:{points:c[1].map(function(p){return api.coord(p);}),smooth:0.3},
          style:{fill:levelColors[c[0]],stroke:null}};
      }
    },
    {
      type:'custom',name:'spots',xAxisIndex:0,yAxisIndex:0,z:2,silent:true,clip:true,
      data:spots.map(function(s,i){return [i];}),
      renderItem:function(params,api){
        var s=spots[params.dataIndex];
        var c=api.coord([s[0],s[1]]);
        var r=api.size([s[2],s[3]]);
        return {type:'ellipse',shape:{cx:c[0],cy:c[1],rx:r[0],ry:r[1]},style:{fill:levelColors[s[4]],stroke:null}};
      }
    },
    segmentSeries('mesh',meshLines,levelColors[6],4,.5,3),
    segmentSeries('fringes bright',fringesBright,levelColors[6],5,.9,3),
    segmentSeries('fringes dark',fringesDark,levelColors[10],9,1,3),
    {type:'scatter',name:'green faint',xAxisIndex:0,yAxisIndex:0,z:4,silent:true,symbol:'circle',symbolSize:26,
      data:greenFaintPts,itemStyle:{color:'#008000',borderColor:black,borderWidth:4.5,opacity:.55}},
    {type:'scatter',name:'green',xAxisIndex:0,yAxisIndex:0,z:4,silent:true,symbol:'circle',symbolSize:26,
      data:greenPts,itemStyle:{color:'#008000',borderColor:black,borderWidth:4.5,opacity:.9}},
    {type:'scatter',name:'red faint',xAxisIndex:0,yAxisIndex:0,z:5,silent:true,symbol:'rect',symbolSize:25,
      data:redFaintPts,itemStyle:{color:'#ff0000',borderColor:black,borderWidth:4.5,opacity:.55}},
    {type:'scatter',name:'red',xAxisIndex:0,yAxisIndex:0,z:5,silent:true,symbol:'rect',symbolSize:25,
      data:redPts,itemStyle:{color:'#ff0000',borderColor:black,borderWidth:4.5,opacity:.9}},
    {type:'line',name:'p2 zero',xAxisIndex:0,yAxisIndex:0,z:6,silent:true,symbol:'none',data:[[-5,0],[5,0]],
      lineStyle:{color:'#0000ff',width:14,type:[41.5,41.5],dashOffset:-12,cap:'butt'}},
    {type:'line',name:'p1 zero',xAxisIndex:0,yAxisIndex:0,z:6,silent:true,symbol:'none',data:[[0,5],[0,-5]],
      lineStyle:{color:'#0000ff',width:14,type:[41.5,41.5],dashOffset:-5,cap:'butt'}},
    {type:'line',name:'p1 = p2',xAxisIndex:0,yAxisIndex:0,z:6,silent:true,symbol:'none',data:[[-4.857,-4.857],[5,5]],
      lineStyle:{color:'#ff0000',width:14,type:[41.5,41.5],cap:'butt'}},
    {
      type:'custom',name:'colour bar',xAxisIndex:2,yAxisIndex:2,z:1,silent:true,clip:true,
      data:levelColors.map(function(c,i){return [i];}),
      renderItem:function(params,api){
        var i=params.dataIndex;
        var a=api.coord([0,levelEdges[i+1]]),b=api.coord([1,levelEdges[i]]);
        return {type:'rect',shape:{x:a[0],y:a[1],width:b[0]-a[0],height:b[1]-a[1]},style:{fill:levelColors[i]}};
      }
    }
  ],
  graphic:{elements:[
    {type:'text',x:648,y:230,z:20,style:{text:'(b)',fontFamily:fontMain,fontSize:171,fill:black,textVerticalAlign:'middle'}},
    {type:'text',x:648,y:403,z:20,style:{text:'\u03b2',fontFamily:'Liberation Serif',fontStyle:'italic',fontSize:125,fill:black,textVerticalAlign:'middle'}},
    {type:'text',x:738,y:400,z:20,style:{text:'=',fontFamily:'Liberation Serif',fontSize:190,fill:black,textVerticalAlign:'middle'}},
    {type:'text',x:896,y:400,z:20,style:{text:'0.005 a.u.',fontFamily:fontMain,fontSize:125,fill:black,textVerticalAlign:'middle'}},
    {type:'text',x:1915,y:2400,z:20,style:{text:'I',fontFamily:'Liberation Serif',fontSize:128,fill:black,textVerticalAlign:'middle'}},
    {type:'text',x:1964,y:2435,z:20,style:{text:'0',fontFamily:'Liberation Serif',fontSize:87,fill:black,textVerticalAlign:'middle'}},
    {type:'text',x:2038,y:2402,z:20,style:{text:'=',fontFamily:'Liberation Serif',fontSize:170,fill:black,textVerticalAlign:'middle'}},
    {type:'text',x:2200,y:2399,z:20,style:{text:'3e+14 W/cm',fontFamily:fontMain,fontSize:124,fill:black,textVerticalAlign:'middle'}},
    {type:'text',x:3022,y:2360,z:20,style:{text:'2',fontFamily:'Liberation Serif',fontSize:88,fill:black,textVerticalAlign:'middle'}}
  ]}
};
chart.setOption(option);
</script>
</body>
</html>
